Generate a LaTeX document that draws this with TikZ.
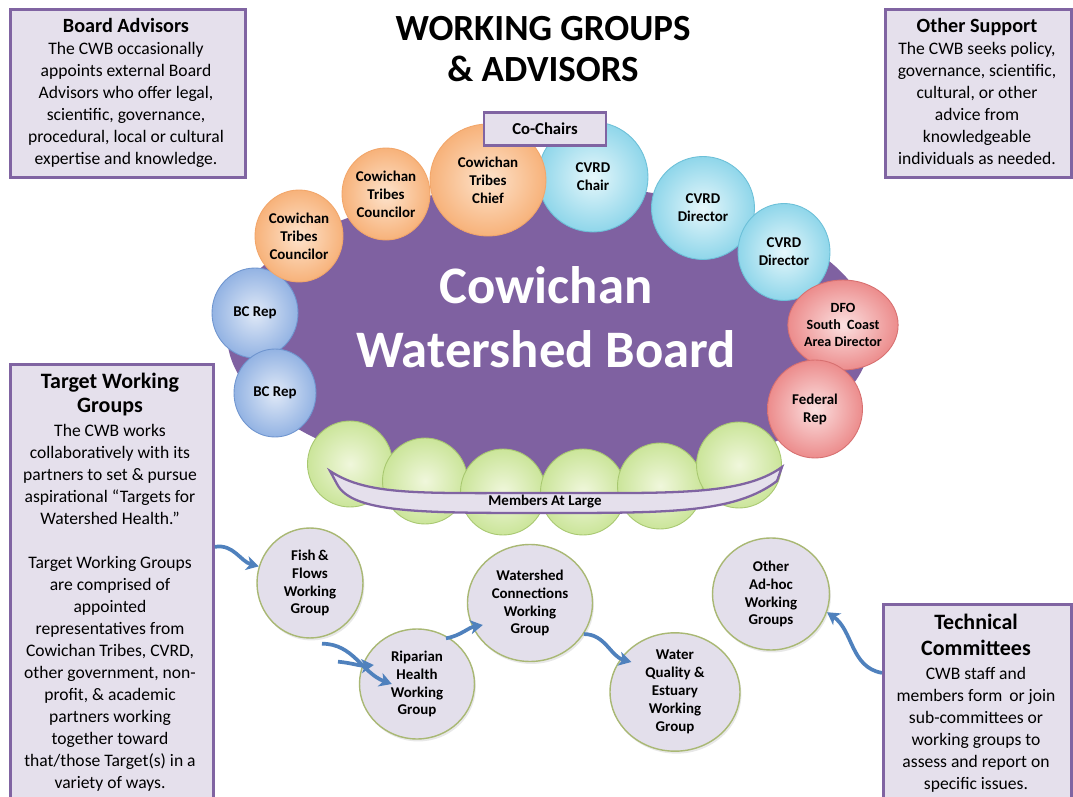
\documentclass[tikz,border=0pt]{standalone}
\usepackage{fontspec}
\setmainfont{Carlito}
\usetikzlibrary{shapes.geometric}
\usetikzlibrary{arrows.meta}
\usetikzlibrary{shadows}

\definecolor{boxfill}{HTML}{E5E0EC}
\definecolor{boxline}{HTML}{8064A2}
\definecolor{boardfill}{HTML}{7F61A1}
\definecolor{tribein}{HTML}{FDE3CC}
\definecolor{tribeout}{HTML}{F7B27A}
\definecolor{tribeline}{HTML}{F2A66A}
\definecolor{cvrdin}{HTML}{E6F7FB}
\definecolor{cvrdout}{HTML}{8FD6EA}
\definecolor{cvrdline}{HTML}{6CC0D8}
\definecolor{fedin}{HTML}{FBE0E0}
\definecolor{fedout}{HTML}{EC8C8C}
\definecolor{fedline}{HTML}{D77070}
\definecolor{bcin}{HTML}{E0E9F7}
\definecolor{bcout}{HTML}{93B3E3}
\definecolor{bcline}{HTML}{6F95CF}
\definecolor{memin}{HTML}{F0F7DC}
\definecolor{memout}{HTML}{CBE59A}
\definecolor{memline}{HTML}{A8C870}
\definecolor{wgfill}{HTML}{E3DFEB}
\definecolor{wgline}{HTML}{A9B874}
\definecolor{flowblue}{HTML}{4F81BD}

\tikzset{
  panel/.style={draw=boxline, fill=boxfill, line width=1.6pt},
  paneltext/.style={align=center, inner sep=0pt, font=\fontsize{10}{12.5}\selectfont},
  seat/.style={ellipse, draw, line width=0.5pt, inner sep=0pt, align=center,
    font=\fontsize{8.5}{10.2}\selectfont\bfseries},
  tribe/.style={seat, draw=tribeline, inner color=tribein, outer color=tribeout},
  cvrd/.style={seat, draw=cvrdline, inner color=cvrdin, outer color=cvrdout},
  fed/.style={seat, draw=fedline, inner color=fedin, outer color=fedout},
  bcrep/.style={seat, draw=bcline, inner color=bcin, outer color=bcout},
  member/.style={seat, draw=memline, inner color=memin, outer color=memout,
    minimum width=1.7cm, minimum height=1.72cm},
  wg/.style={ellipse, draw=wgline, fill=wgfill, line width=0.8pt, inner sep=0pt, align=center,
    font=\fontsize{8.5}{10.2}\selectfont\bfseries,
    drop shadow={opacity=0.18, shadow xshift=0.8pt, shadow yshift=-1.4pt}},
  flow/.style={draw=flowblue, line width=2.1pt, -{Stealth[length=7pt,width=8pt,inset=2pt]}}
}
\newcommand{\heading}[1]{{\fontsize{11.5}{12.5}\selectfont\bfseries #1}}
\newcommand{\bigheading}[1]{{\fontsize{12.5}{12.5}\selectfont\bfseries #1}}

\begin{document}
\begin{tikzpicture}[x=0.02cm, y=-0.02cm]
\useasboundingbox (0,0) rectangle (1073,797);
\fill[white] (0,0) rectangle (1073,797);

% side panels
\node[panel, anchor=north west, minimum width=4.7cm, minimum height=3.36cm] (advbox) at (9,8) {};
\node[paneltext, anchor=north] (advtext) at (126,18) {\heading{Board Advisors}\\The CWB occasionally\\appoints external Board\\Advisors who offer legal,\\scientific, governance,\\procedural, local or cultural\\expertise and knowledge.};

\node[panel, anchor=north west, minimum width=3.72cm, minimum height=3.36cm] (supbox) at (884,8) {};
\node[paneltext, anchor=north] (suptext) at (977,18) {\heading{Other Support}\\The CWB seeks policy,\\governance, scientific,\\cultural, or other\\advice from\\knowledgeable\\individuals as needed.};

\node[panel, anchor=north west, minimum width=4.06cm, minimum height=8.9cm] (twgbox) at (9,363) {};
\node[paneltext, anchor=north] (twgtext) at (110,373) {\bigheading{Target Working}\\[1.2pt]\bigheading{Groups}\\[1.2pt]The CWB works\\collaboratively with its\\partners to set \& pursue\\aspirational “Targets for\\Watershed Health.”\\[12.5pt]Target Working Groups\\are comprised of\\appointed\\representatives from\\Cowichan Tribes, CVRD,\\other government, non-\\profit, \& academic\\partners working\\together toward\\that/those Target(s) in a\\variety of ways.};

\node[panel, anchor=north west, minimum width=3.76cm, minimum height=4.1cm] (tecbox) at (882,603) {};
\node[paneltext, anchor=north] (tectext) at (976,614) {\bigheading{Technical}\\[2pt]\bigheading{Committees}\\[1.2pt]CWB staff and\\members form\, or join\\sub-committees or\\working groups to\\assess and report on\\specific issues.};

% title
\node[align=center, font=\fontsize{21}{23.8}\selectfont\bfseries] (title) at (543,49) {WORKING GROUPS\\\& ADVISORS};

% the board
\node[ellipse, fill=boardfill, minimum width=12.88cm, minimum height=6cm] (board) at (549,335) {};
\node[text=white, align=center, font=\fontsize{30}{36.3}\selectfont\bfseries] (boardname) at (546,317) {Cowichan\\Watershed Board};

% members at large
\foreach \gx/\gy [count=\i] in {350/464, 425/481, 503/492, 583/492, 660/486, 739/465}
  \node[member] (m\i) at (\gx,\gy) {};
\draw[draw=boxline, fill=boxfill, line width=1.3pt] (330,471) .. controls (368,496) and (420,493) .. (545,493) .. controls (670,493) and (742,496) .. (782,467) -- (777,481) .. controls (735,513) and (670,513) .. (545,513) .. controls (420,513) and (352,513) .. (337,484) -- cycle;
\node[font=\fontsize{8.5}{10}\selectfont\bfseries] (members) at (545,502) {Members At Large};

% seats
\node[bcrep, minimum width=1.72cm, minimum height=1.8cm] (bc1) at (255,313) {BC Rep};
\node[bcrep, minimum width=1.64cm, minimum height=1.76cm] (bc2) at (275,393) {BC Rep};
\node[tribe, minimum width=1.76cm, minimum height=1.84cm] (ctc1) at (299,236) {Cowichan\\Tribes\\Councilor};
\node[tribe, minimum width=1.76cm, minimum height=1.84cm] (ctc2) at (386,194) {Cowichan\\Tribes\\Councilor};
\node[cvrd, minimum width=2.2cm, minimum height=2.2cm] (chair) at (593,177) {CVRD\\Chair};
\node[tribe, minimum width=2.32cm, minimum height=2.24cm] (chief) at (488,180) {Cowichan\\Tribes\\Chief};
\node[cvrd, minimum width=2.06cm, minimum height=2.06cm] (dir1) at (703,208) {CVRD\\Director};
\node[cvrd, minimum width=1.84cm, minimum height=1.94cm] (dir2) at (784,252) {CVRD\\Director};
\node[fed, minimum width=1.8cm, minimum height=1.8cm, font=\fontsize{8}{9.8}\selectfont\bfseries] (dfo) at (843,325) {DFO\\South\ \ Coast\\Area Director};
\node[fed, minimum width=1.9cm, minimum height=1.96cm] (fedrep) at (815,409) {Federal\\Rep};
\node[panel, line width=1.3pt, minimum width=2.44cm, minimum height=0.66cm, font=\fontsize{9.5}{11}\selectfont\bfseries] (cochairs) at (545,129) {Co-Chairs};

% working groups
\node[wg, minimum width=2.12cm, minimum height=2.2cm] (fish) at (310,583) {Fish\,\&\\Flows\\Working\\Group};
\node[wg, minimum width=2.3cm, minimum height=2.2cm] (rip) at (417,684) {Riparian\\Health\\Working\\Group};
\node[wg, minimum width=2.5cm, minimum height=2.34cm] (ws) at (530,603) {Watershed\\Connections\\Working\\Group};
\node[wg, minimum width=2.6cm, minimum height=2.24cm] (wq) at (675,692) {Water\\Quality \&\\Estuary\\Working\\Group};
\node[wg, minimum width=2.34cm, minimum height=2.24cm] (other) at (771,594) {Other\\Ad-hoc\\Working\\Groups};

% arrows
\draw[flow] ([yshift=0.8cm]twgbox.east) to[out=10,in=165] (fish.162);
\draw[flow] ([xshift=0.24cm,yshift=-0.1cm]fish.south) to[out=0,in=160] ([xshift=0.66cm]rip.west);
\draw[flow] ([xshift=0.56cm,yshift=-0.46cm]fish.south) to[out=-5,in=185] ([xshift=0.3cm,yshift=0.38cm]rip.west);
\draw[flow] ([xshift=0.58cm,yshift=-0.2cm]rip.north) to[out=10,in=190] ([xshift=0.32cm,yshift=-0.44cm]ws.west);
\draw[flow] (ws.-30) to[out=0,in=165] ([xshift=0.44cm,yshift=0.6cm]wq.west);
\draw[flow] ([yshift=0.68cm]tecbox.west) to[out=170,in=-35] (other.-18);
\end{tikzpicture}
\end{document}
